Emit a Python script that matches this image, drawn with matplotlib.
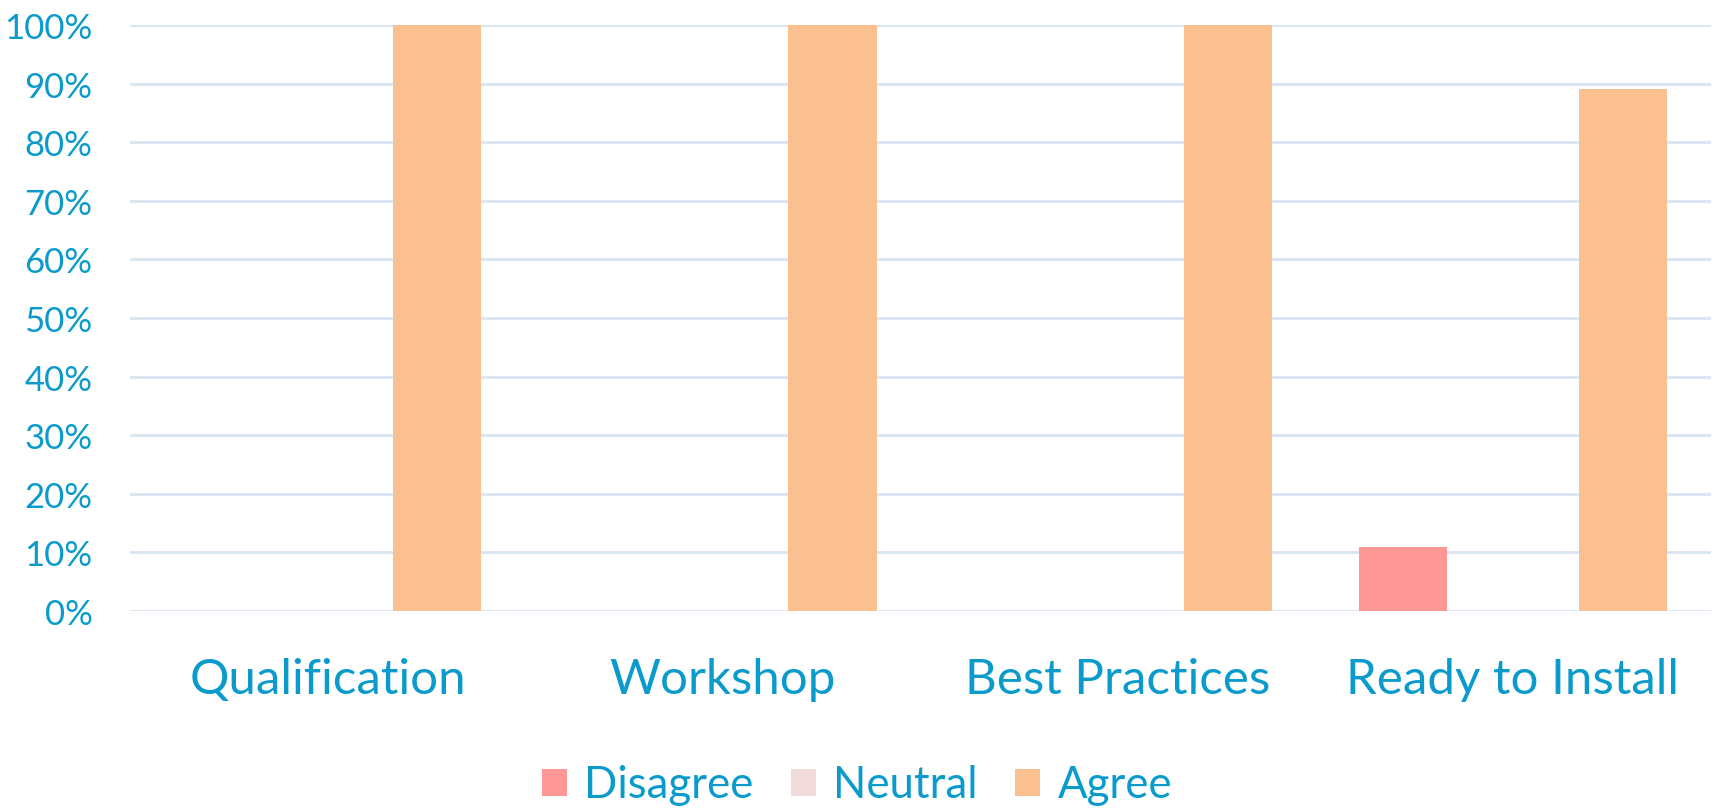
import matplotlib
matplotlib.use("Agg")
import matplotlib.pyplot as plt
import numpy as np

plt.rcParams['font.family'] = ['Lato', 'DejaVu Sans']

categories = ["Qualification", "Workshop", "Best Practices", "Ready to Install"]
disagree = [0, 0, 0, 11]
neutral = [0, 0, 0, 0]
agree = [100, 100, 100, 89]

series = [("Disagree", disagree, "#FF9797"),
          ("Neutral", neutral, "#F2DCDB"),
          ("Agree", agree, "#FAC090")]

txt = "#0A9BCC"
grid = "#D9E4F2"

fig = plt.figure(figsize=(17.14, 8.12), dpi=100)
ax = fig.add_axes([0.0758, 0.2463, 0.9222, 0.7217])

x = np.arange(len(categories))
slot = 0.278
width = 0.223
for i, (name, vals, col) in enumerate(series):
    ax.bar(x + (i - 1) * slot, vals, width, color=col, label=name, zorder=3)

ax.set_xlim(-0.5, len(categories) - 0.5)
ax.set_ylim(0, 100)
ax.set_yticks(np.arange(0, 101, 10))
ax.set_yticklabels([f"{v}%" for v in range(0, 101, 10)])
ax.yaxis.grid(True, color=grid, linewidth=2)
ax.set_axisbelow(True)
for s in ax.spines.values():
    s.set_visible(False)
ax.tick_params(axis='y', length=0, pad=27, labelsize=25, labelcolor=txt)
ax.set_xticks(x)
ax.set_xticklabels(categories)
ax.tick_params(axis='x', length=0, pad=33, labelsize=35.5, labelcolor=txt)

leg = fig.legend(loc='center', bbox_to_anchor=(0.5, 1 - 786 / 812), ncol=3,
                 frameon=False, fontsize=31.5, labelcolor=txt,
                 handlelength=0.57, handleheight=0.57, handletextpad=0.4,
                 columnspacing=0.85)

fig.savefig("out.png", dpi=100)
